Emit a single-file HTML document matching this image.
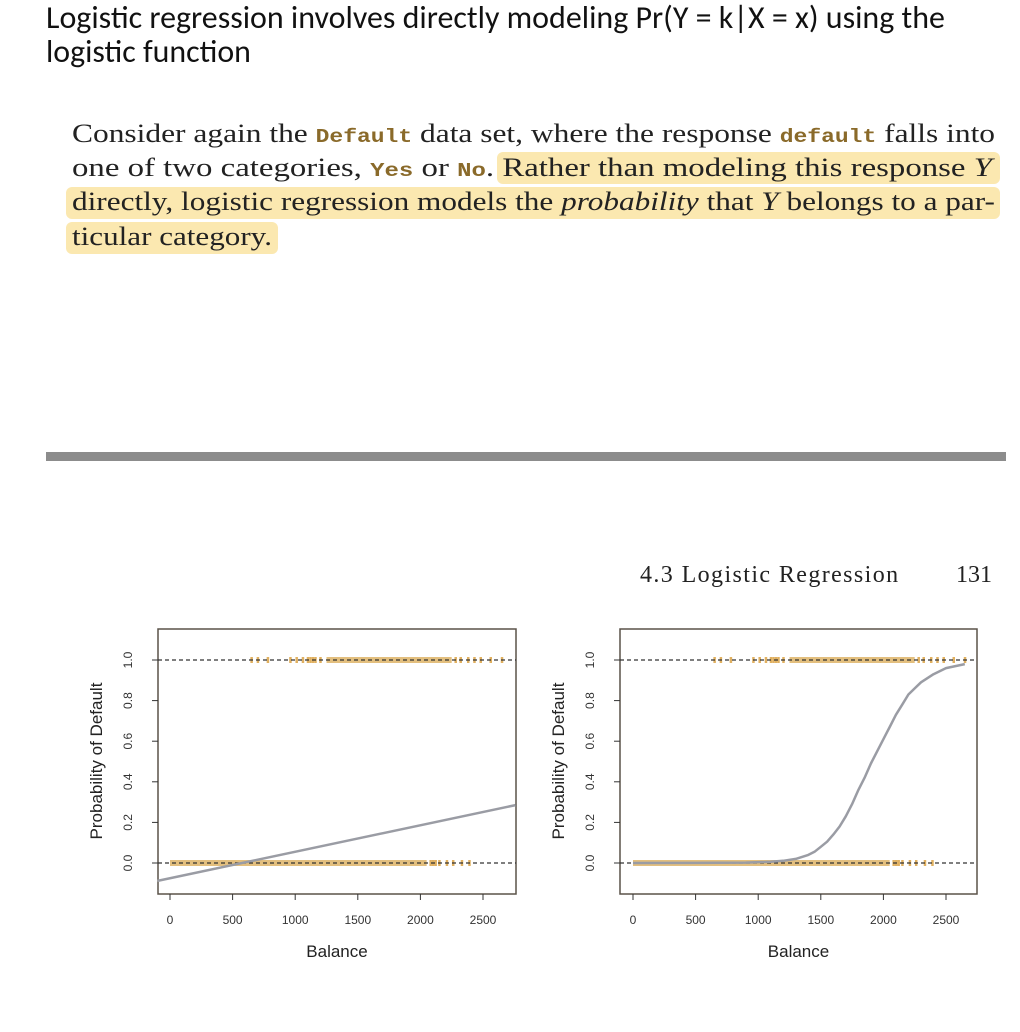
<!DOCTYPE html>
<html><head><meta charset="utf-8">
<style>
body{margin:0;width:1020px;height:1032px;background:#fff;position:relative;overflow:hidden;font-family:"Liberation Sans",sans-serif;}
.t{position:absolute;left:46px;font-size:27px;color:#111;font-family:"Carlito","Liberation Sans",sans-serif;white-space:nowrap;line-height:32px}
.ln{position:absolute;left:72px;font-family:"Liberation Serif",serif;font-size:26px;color:#222;white-space:nowrap;line-height:30px;transform-origin:0 0}
.ln code{font-family:"Liberation Mono",monospace;font-size:19px;color:#8a6a2a;font-weight:bold}
.hl{background:#fbe8b0;border-radius:6px}
</style></head><body>
<div class="t fs" data-w="899" style="top:2px">Logistic regression involves directly modeling Pr(Y = k|X = x) using the</div>
<div class="t fs" data-w="205" style="top:36px">logistic function</div>

<div class="hl" style="position:absolute;left:497px;top:152px;width:503px;height:32px"></div>
<div class="hl" style="position:absolute;left:66px;top:187px;width:934px;height:32px"></div>
<div class="hl" style="position:absolute;left:66px;top:222px;width:212px;height:32px"></div>
<div class="ln fit" data-w="923" style="top:119px">Consider again the <code>Default</code> data set, where the response <code>default</code> falls into</div>
<div class="ln fit" data-w="920" style="top:153px">one of two categories, <code>Yes</code> or <code>No</code>. Rather than modeling this response <i>Y</i></div>
<div class="ln fit" data-w="923" style="top:187px">directly, logistic regression models the <i>probability</i> that <i>Y</i> belongs to a par-</div>
<div class="ln fit" data-w="200" style="top:222px">ticular category.</div>

<div style="position:absolute;left:46px;top:452px;width:960px;height:9px;background:#8c8c8c"></div>
<div style="position:absolute;left:640px;top:562px;font-family:'Liberation Serif',serif;font-size:24px;color:#222;letter-spacing:1.4px">4.3 Logistic Regression</div>
<div style="position:absolute;left:956px;top:562px;font-family:'Liberation Serif',serif;font-size:24px;color:#222">131</div>

<svg id="chart" width="1020" height="1032" style="position:absolute;left:0;top:0"></svg>
<script>
document.querySelectorAll('.fit').forEach(el=>{
  const target=+el.getAttribute('data-w');
  const w=el.getBoundingClientRect().width;
  el.style.transform='scaleX('+(target/w).toFixed(4)+')';
});
document.querySelectorAll('.fs').forEach(el=>{
  const target=+el.getAttribute('data-w');
  const w=el.getBoundingClientRect().width;
  el.style.fontSize=(27*target/w).toFixed(2)+'px';
});
</script>
<script>
const xTicks=[0,500,1000,1500,2000,2500];
const yTicks=[0.0,0.2,0.4,0.6,0.8,1.0];
const yTickLabels=["0.0","0.2","0.4","0.6","0.8","1.0"];
const noDenseRange=[0,2050];
const noSparse=[2080,2100,2120,2150,2210,2260,2330,2390];
const yesDenseRange=[1250,2250];
const yesSparse=[650,700,780,960,1010,1060,1100,1120,1140,1160,1200,2280,2320,2380,2430,2480,2560,2650];
const linBalance=[-100,2760];
const linProb=[-0.088,0.285];
const logBalance=[0,500,900,1100,1200,1300,1400,1450,1500,1550,1600,1650,1700,1750,1800,1850,1900,1950,2000,2050,2100,2150,2200,2250,2300,2400,2500,2650];
const logProb=[0,0.0003,0.002,0.006,0.011,0.02,0.04,0.055,0.08,0.105,0.14,0.18,0.23,0.29,0.36,0.42,0.49,0.55,0.61,0.67,0.73,0.78,0.83,0.86,0.89,0.93,0.96,0.98];

const NS='http://www.w3.org/2000/svg';
const svg=document.getElementById('chart');
function mk(tag,attrs,parent){const e=document.createElementNS(NS,tag);for(const k in attrs)e.setAttribute(k,attrs[k]);(parent||svg).appendChild(e);return e;}
function panel(x0px,boxL,boxR,kind){
  const g=mk('g',{});
  
  
  const sx=v=>x0px+v*(313/2500);
  const sy=v=>863-v*203;
  const box=mk('rect',{x:boxL,y:629,width:boxR-boxL,height:265,fill:'none',stroke:'#5a5248','stroke-width':1.5},g);
  
  
  const r1=mk('rect',{x:sx(noDenseRange[0]),y:sy(0)-3,width:sx(noDenseRange[1])-sx(noDenseRange[0]),height:6,fill:'#e0b870',opacity:0.9},g);
  
  
  const r2=mk('rect',{x:sx(yesDenseRange[0]),y:sy(1)-3,width:sx(yesDenseRange[1])-sx(yesDenseRange[0]),height:6,fill:'#e0b870',opacity:0.9},g);
  
  
  noSparse.forEach(v=>{const p=mk('rect',{x:sx(v)-1,y:sy(0)-3,width:2.5,height:6,fill:'#e0b060'},g);
    
    });
  yesSparse.forEach(v=>{const p=mk('rect',{x:sx(v)-1,y:sy(1)-3,width:2.5,height:6,fill:'#e0b060'},g);
    
    });
  [0,1].forEach(v=>{const l=mk('line',{x1:boxL,x2:boxR,y1:sy(v),y2:sy(v),stroke:'#333','stroke-width':1.2,'stroke-dasharray':'4,3'},g);
    
    });
  let xs=kind==='linear'?linBalance:logBalance, ys=kind==='linear'?linProb:logProb;
  const d=xs.map((v,i)=>(i?'L':'M')+sx(v).toFixed(1)+','+sy(ys[i]).toFixed(1)).join(' ');
  const f=mk('path',{d:d,fill:'none',stroke:'#9a9ca4','stroke-width':2.5,'stroke-linejoin':'round'},g);
  
  
  xTicks.forEach(v=>{mk('line',{x1:sx(v),x2:sx(v),y1:894,y2:900,stroke:'#333'},g);
    const t=mk('text',{x:sx(v),y:924,'font-size':12,'text-anchor':'middle',fill:'#333','font-family':'Liberation Sans'},g);t.textContent=v;
    
    });
  yTicks.forEach((v,i)=>{mk('line',{x1:boxL,x2:boxL-6,y1:sy(v),y2:sy(v),stroke:'#333'},g);
    const t=mk('text',{x:0,y:0,'font-size':12,'text-anchor':'middle',fill:'#333',transform:`translate(${boxL-26},${sy(v)}) rotate(-90)`},g);t.textContent=yTickLabels[i];
    
    });
  const xt=mk('text',{x:(boxL+boxR)/2,y:957,'font-size':17,'text-anchor':'middle',fill:'#222'},g);xt.textContent='Balance';
  
  
  const yt=mk('text',{x:0,y:0,'font-size':17,'text-anchor':'middle',fill:'#222',transform:`translate(${boxL-56},761) rotate(-90)`},g);yt.textContent='Probability of Default';
  
  
}
panel(170,158,516,'linear');
panel(633,620,977,'logistic');
</script>
</body></html>
